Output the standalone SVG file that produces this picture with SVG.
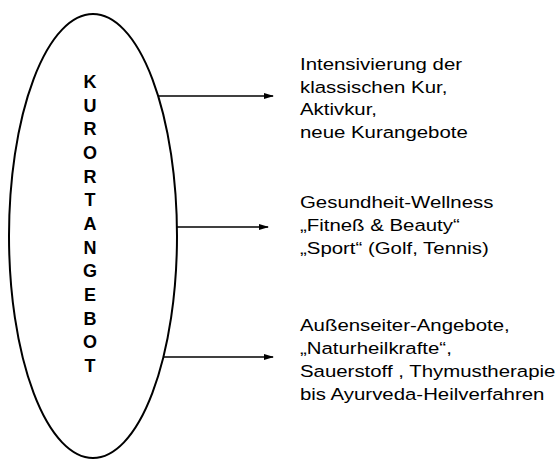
<svg xmlns="http://www.w3.org/2000/svg" width="559" height="460" viewBox="0 0 559 460">
<defs>
<style>
.lbl{font-family:"Liberation Sans",Arial,sans-serif;font-size:17px;fill:#000}
.v{font-family:"Liberation Sans",Arial,sans-serif;font-size:18px;font-weight:bold;fill:#000;text-anchor:middle}
.c{stroke:#000;stroke-width:1.3;fill:none}
</style>
<marker id="ah" markerWidth="10" markerHeight="8" refX="9" refY="4" orient="auto" markerUnits="userSpaceOnUse">
<path d="M0,1 L10,4 L0,7 Z" fill="#000"/>
</marker>
</defs>
<rect width="559" height="460" fill="#fff"/>
<g id="kurortangebot">
<ellipse cx="93" cy="236" rx="84" ry="222" fill="none" stroke="#000" stroke-width="2"/>
<text class="v" x="90" y="88">K</text>
<text class="v" x="90" y="111.7">U</text>
<text class="v" x="90" y="135.3">R</text>
<text class="v" x="90" y="159">O</text>
<text class="v" x="90" y="182.7">R</text>
<text class="v" x="90" y="206.3">T</text>
<text class="v" x="90" y="230">A</text>
<text class="v" x="90" y="253.7">N</text>
<text class="v" x="90" y="277.3">G</text>
<text class="v" x="90" y="301">E</text>
<text class="v" x="90" y="324.7">B</text>
<text class="v" x="90" y="348.3">O</text>
<text class="v" x="90" y="372">T</text>
</g>
<g id="connectors">
<line class="c" x1="159" y1="96" x2="273" y2="96" marker-end="url(#ah)"/>
<line class="c" x1="177" y1="227" x2="268" y2="227" marker-end="url(#ah)"/>
<line class="c" x1="164" y1="357" x2="273" y2="357" marker-end="url(#ah)"/>
</g>
<g id="group1" transform="matrix(1.2,0,0,1,-60,0)">
<text class="lbl" x="300" y="70">Intensivierung der</text>
<text class="lbl" x="300" y="93">klassischen Kur,</text>
<text class="lbl" x="300" y="115">Aktivkur,</text>
<text class="lbl" x="300" y="138">neue Kurangebote</text>
</g>
<g id="group2" transform="matrix(1.2,0,0,1,-60,0)">
<text class="lbl" x="300" y="208">Gesundheit-Wellness</text>
<text class="lbl" x="300" y="231">„Fitneß &amp; Beauty“</text>
<text class="lbl" x="300" y="254">„Sport“ (Golf, Tennis)</text>
</g>
<g id="group3" transform="matrix(1.2,0,0,1,-60,0)">
<text class="lbl" x="300" y="331">Außenseiter-Angebote,</text>
<text class="lbl" x="300" y="354">„Naturheilkrafte“,</text>
<text class="lbl" x="300" y="377">Sauerstoff , Thymustherapie</text>
<text class="lbl" x="300" y="400">bis Ayurveda-Heilverfahren</text>
</g>
</svg>
